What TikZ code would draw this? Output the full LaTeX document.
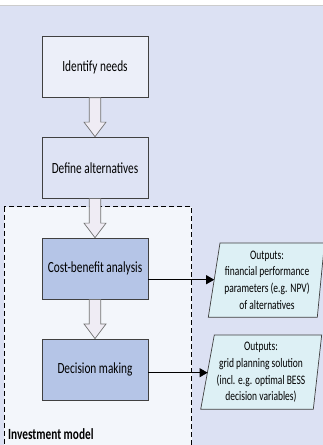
\documentclass[tikz,border=0pt]{standalone}
\usepackage{fontspec}
\setmainfont[FakeStretch=0.73]{Carlito}
\usetikzlibrary{calc,arrows.meta}
\definecolor{bgc}{HTML}{DCE1F3}
\definecolor{lightbox}{HTML}{ECEFF9}
\definecolor{midbox}{HTML}{DEE3F4}
\definecolor{bluebox}{HTML}{B5C5E7}
\definecolor{invfill}{HTML}{F3F6FB}
\definecolor{outfill}{HTML}{DDF0F5}
\definecolor{arrfill}{HTML}{EFECF4}
\definecolor{borderc}{HTML}{404040}
\tikzset{
  procbox/.style={draw=borderc, line width=0.8pt, minimum width=106pt, minimum height=60.6pt,
    inner sep=0pt, font=\fontsize{15.5}{18}\selectfont},
  blockarr/.style={draw=black!55, line width=0.7pt, fill=arrfill},
  outbox/.style={draw=borderc, line width=0.7pt, fill=outfill},
  outtext/.style={align=center, inner sep=0pt, font=\fontsize{13}{16.7}\selectfont},
  outarrow/.style={draw=black, line width=0.8pt, -{Triangle[length=8pt,width=9pt]}},
}
\newcommand\blockarrow[2]{%
  \draw[blockarr] let \p1=(#1.south), \p2=(#2.north) in
    (\x1-5.7pt,\y1) -- (\x1-5.7pt,\y2+15pt) -- (\x1-11pt,\y2+15pt) -- (\x1,\y2+0.4pt)
    -- (\x1+11pt,\y2+15pt) -- (\x1+5.7pt,\y2+15pt) -- (\x1+5.7pt,\y1) -- cycle;}
\begin{document}
\begin{tikzpicture}[x=1pt,y=-1pt]
  \useasboundingbox (0,0) rectangle (323,445);
  \begin{scope}
  \clip (0,0) rectangle (323,445);
  % background
  \fill[bgc] (0,0) rectangle (323,445);
  \fill[white] (0,0) rectangle (323,4.5);
  \fill[black!20] (0,4.5) rectangle (323,6);
  % investment model region
  \draw[black, line width=0.8pt, dash pattern=on 5pt off 3pt, fill=invfill] (4,206.7) rectangle (191.7,452);
  \node[anchor=base west, inner sep=0pt, font=\fontsize{15.5}{18}\selectfont\bfseries] (inv) at (8,439.5) {Investment model};
  % process boxes
  \node[procbox, fill=lightbox] (n1) at (95,67) {Identify needs};
  \node[procbox, fill=midbox] (n2) at (95,167.8) {Define alternatives};
  \node[procbox, fill=bluebox] (n3) at (95,268.8) {Cost-benefit analysis};
  \node[procbox, fill=bluebox] (n4) at (95,369.7) {Decision making};
  % block arrows
  \blockarrow{n1}{n2}
  \blockarrow{n2}{n3}
  \blockarrow{n3}{n4}
  % output parallelograms
  \draw[outbox] (220,243) -- (324.5,243) -- (317.3,317.3) -- (208.3,317.3) -- cycle;
  \node[outtext] (o1) at (267,280) {Outputs:\\financial performance\\parameters (e.g. NPV)\\of alternatives};
  \coordinate (o1in) at (214.2,279.7);
  \draw[outbox] (214.3,335) -- (321.7,335) -- (313.3,409.3) -- (200.7,409.3) -- cycle;
  \node[outtext] (o2) at (261,372.5) {Outputs:\\grid planning solution\\(incl. e.g. optimal BESS\\decision variables)};
  \coordinate (o2in) at (207.6,372.7);
  % output connectors
  \draw[outarrow] (n3.east |- o1in) -- (o1in);
  \draw[outarrow] (n4.east |- o2in) -- (o2in);
  \end{scope}
\end{tikzpicture}
\end{document}
